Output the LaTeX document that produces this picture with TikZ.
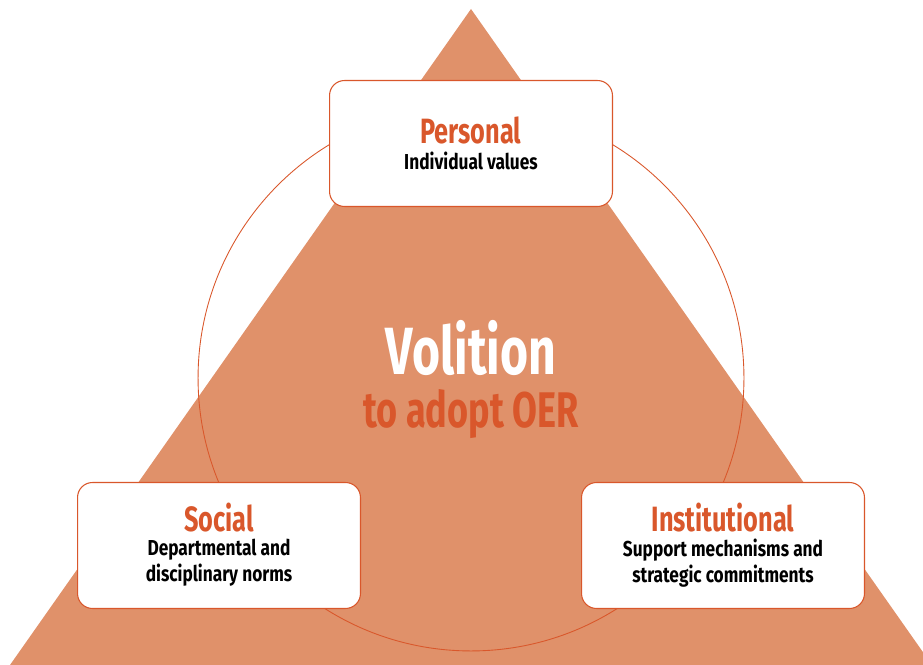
\documentclass[tikz,border=0pt]{standalone}
\usepackage{fontspec}
\setmainfont[FakeStretch=0.8]{Fira Sans}
\newfontfamily\narrowfont[FakeStretch=0.72]{Fira Sans}
\usetikzlibrary{positioning}
\definecolor{oerorange}{HTML}{D9572B}
\definecolor{oerfill}{HTML}{E0916A}

\begin{document}
\begin{tikzpicture}[x=0.02cm,y=-0.02cm,
    factor/.style={draw=oerorange, line width=0.6pt, fill=white, rounded corners=0.3cm, minimum width=5.66cm, minimum height=2.52cm},
    title/.style={text=oerorange, font=\narrowfont\fontsize{20}{22}\selectfont\bfseries},
    detail/.style={align=center, font=\fontsize{12.3}{15}\selectfont\bfseries}]
    \useasboundingbox (0,0) rectangle (923,665);
    \clip (0,0) rectangle (923,665);

    % background shapes
    \fill[oerfill] (471,9) -- (932,665) -- (10,665) -- cycle;
    \draw[oerorange, line width=0.5pt] (471,378) circle (5.46cm);

    % centre text
    \node[text=white, font=\narrowfont\fontsize{38}{40}\selectfont\bfseries] (volition) at (471,348) {Volition};
    \node[text=oerorange, font=\narrowfont\fontsize{28.5}{30}\selectfont\bfseries] (adopt) at (471,414) {to adopt OER};

    % the three boxes
    \node[factor] (personal) at (471,143.5) {};
    \node[title] (personaltitle) at (471,130) {Personal};
    \node[detail] (personaltext) at (471,161) {Individual values};

    \node[factor] (social) at (219,545.5) {};
    \node[title] (socialtitle) at (219,518) {Social};
    \node[detail] (socialtext) at (219,563) {Departmental and\\disciplinary norms};

    \node[factor] (institutional) at (723,545.5) {};
    \node[title] (institutionaltitle) at (723,518) {Institutional};
    \node[detail] (institutionaltext) at (723,563) {Support mechanisms and\\strategic commitments};
\end{tikzpicture}
\end{document}
